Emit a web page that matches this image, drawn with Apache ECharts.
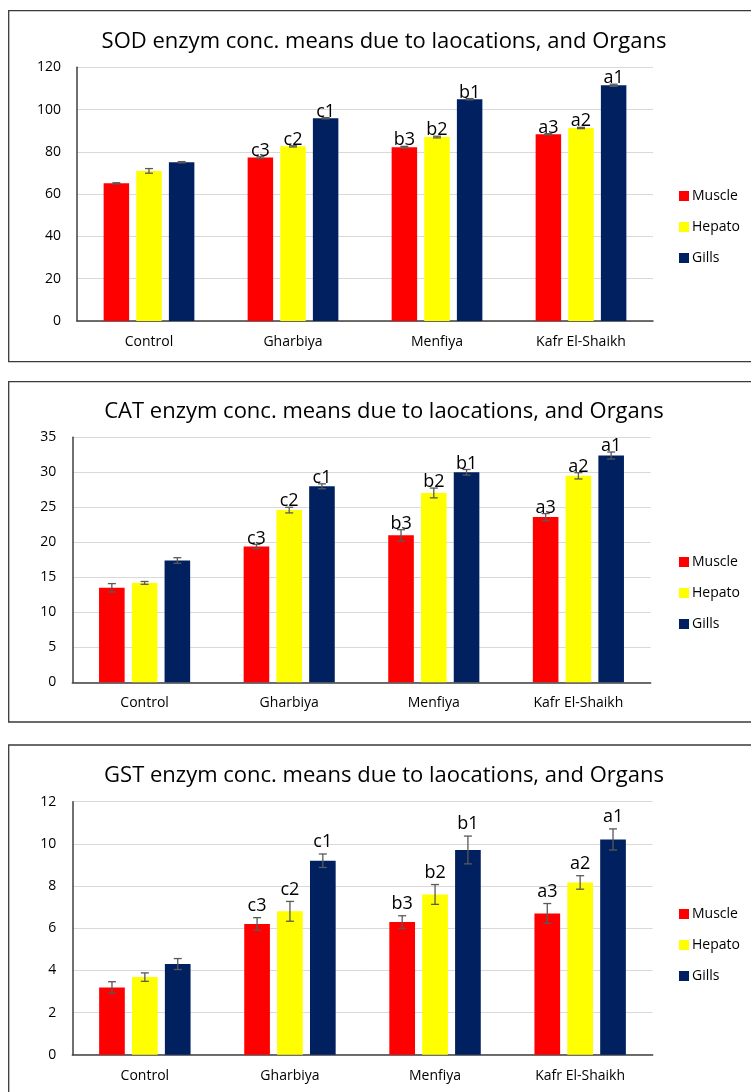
<!DOCTYPE html>
<html>
<head>
<meta charset="utf-8">
<script src="https://cdn.jsdelivr.net/npm/echarts@6/dist/echarts.min.js"></script>
<style>
html,body{margin:0;padding:0;background:#fff;}
#c{width:751px;height:1092px;}
</style>
</head>
<body>
<div id="c"></div>
<script>
// ---------- DATA ----------
const categories = ['Control', 'Gharbiya', 'Menfiya', 'Kafr El-Shaikh'];
const organs = ['Muscle', 'Hepato', 'Gills'];

const muscleLetters = ['', 'c3', 'b3', 'a3'];
const hepatoLetters = ['', 'c2', 'b2', 'a2'];
const gillsLetters  = ['', 'c1', 'b1', 'a1'];

const sodTitle = 'SOD enzym conc. means due to laocations, and Organs';
const sodMuscle = [65.1, 77.3, 82.2, 88.3];
const sodHepato = [71.0, 82.6, 87.0, 91.3];
const sodGills  = [75.1, 95.9, 104.9, 111.5];
const sodMuscleErr = [0.3, 0.4, 0.4, 0.3];
const sodHepatoErr = [1.1, 0.3, 0.4, 0.3];
const sodGillsErr  = [0.3, 0.3, 0.3, 0.5];
const sodTicks = { min: 0, max: 120, interval: 20 };

const catTitle = 'CAT enzym conc. means due to laocations, and Organs';
const catMuscle = [13.5, 19.4, 21.0, 23.6];
const catHepato = [14.2, 24.6, 27.05, 29.5];
const catGills  = [17.4, 28.0, 30.0, 32.4];
const catMuscleErr = [0.6, 0.3, 0.8, 0.5];
const catHepatoErr = [0.2, 0.4, 0.7, 0.45];
const catGillsErr  = [0.4, 0.35, 0.4, 0.5];
const catTicks = { min: 0, max: 35, interval: 5 };

const gstTitle = 'GST enzym conc. means due to laocations, and Organs';
const gstMuscle = [3.19, 6.2, 6.29, 6.7];
const gstHepato = [3.68, 6.8, 7.6, 8.17];
const gstGills  = [4.3, 9.2, 9.71, 10.21];
const gstMuscleErr = [0.27, 0.3, 0.3, 0.47];
const gstHepatoErr = [0.2, 0.47, 0.47, 0.32];
const gstGillsErr  = [0.26, 0.32, 0.66, 0.5];
const gstTicks = { min: 0, max: 12, interval: 2 };

// ---------- STYLE / LAYOUT ----------
const colors = ['#FF0000', '#FFFF00', '#002060'];
const FONT = '"Open Sans", "Noto Sans", sans-serif';
const BAR_RATIO = 0.177;
const GAP_RATIO = 0.28;

const panels = [
  { y: 10.7, h: 351, titleY: 42, grid: { left: 77, top: 67.3, width: 576, height: 253.7 }, legendTop: 189, labelGap: 0 },
  { y: 381.7, h: 340.3, titleY: 412, grid: { left: 72.3, top: 437.3, width: 578.4, height: 245 }, legendTop: 555, labelGap: 0 },
  { y: 745, h: 360, titleY: 776, grid: { left: 72.3, top: 801.7, width: 580.4, height: 253 }, legendTop: 907, labelGap: 6 }
];

const charts = [
  { title: sodTitle, vals: [sodMuscle, sodHepato, sodGills], errs: [sodMuscleErr, sodHepatoErr, sodGillsErr], ticks: sodTicks },
  { title: catTitle, vals: [catMuscle, catHepato, catGills], errs: [catMuscleErr, catHepatoErr, catGillsErr], ticks: catTicks },
  { title: gstTitle, vals: [gstMuscle, gstHepato, gstGills], errs: [gstMuscleErr, gstHepatoErr, gstGillsErr], ticks: gstTicks }
];
const letters = [muscleLetters, hepatoLetters, gillsLetters];

const option = {
  animation: false,
  backgroundColor: '#fff',
  textStyle: { fontFamily: FONT },
  title: [], grid: [], xAxis: [], yAxis: [], legend: [], series: [],
  graphic: []
};

charts.forEach((ch, k) => {
  const p = panels[k];
  option.graphic.push({
    type: 'rect', silent: true, z: -1,
    shape: { x: 8.7, y: p.y, width: 760, height: p.h },
    style: { fill: 'none', stroke: '#3a3a3a', lineWidth: 1.3 }
  });
  option.title.push({
    text: ch.title, left: 384, top: p.titleY - 12, textAlign: 'center', padding: 0,
    textStyle: { fontFamily: FONT, fontSize: 22, fontWeight: 'normal', color: '#000', lineHeight: 24 }
  });
  option.grid.push(Object.assign({ containLabel: false }, p.grid));
  option.xAxis.push({
    type: 'category', gridIndex: k, data: categories,
    axisLine: { lineStyle: { color: '#404040', width: 1.5 } },
    axisTick: { show: false },
    axisLabel: { margin: 14, fontSize: 14, color: '#000', fontFamily: FONT }
  });
  option.yAxis.push({
    type: 'value', gridIndex: k, min: ch.ticks.min, max: ch.ticks.max, interval: ch.ticks.interval,
    axisLine: { show: true, lineStyle: { color: '#404040', width: 1.5 } },
    axisTick: { show: false },
    axisLabel: { margin: 16, fontSize: 14, color: '#000', fontFamily: FONT },
    splitLine: { lineStyle: { color: '#D9D9D9', width: 1 } }
  });
  option.legend.push({
    orient: 'vertical', left: 679, top: p.legendTop, padding: 0,
    itemWidth: 10, itemHeight: 10, itemGap: 17, icon: 'rect', selectedMode: false,
    data: organs,
    textStyle: { fontSize: 14, color: '#000', fontFamily: FONT, padding: [0, 0, 0, -2] }
  });
  organs.forEach((org, i) => {
    option.series.push({
      type: 'bar', name: org, xAxisIndex: k, yAxisIndex: k,
      data: ch.vals[i], itemStyle: { color: colors[i] },
      barWidth: (BAR_RATIO * 100) + '%', barGap: (GAP_RATIO * 100) + '%'
    });
  });
  const errData = [];
  const errLabels = [];
  organs.forEach((org, i) => {
    ch.vals[i].forEach((v, c) => {
      errData.push([c, v, ch.errs[i][c], i]);
      errLabels.push(letters[i][c]);
    });
  });
  const gap = p.labelGap;
  option.series.push({
    type: 'custom', name: 'err' + k, xAxisIndex: k, yAxisIndex: k, z: 5,
    data: errData, encode: { x: 0, y: 1 }, silent: true,
    renderItem: function (params, api) {
      const c = api.value(0), v = api.value(1), e = api.value(2), si = api.value(3);
      const catW = api.size([1, 0])[0];
      const bw = catW * BAR_RATIO, g = bw * GAP_RATIO;
      const x = api.coord([c, 0])[0] + (si - 1) * (bw + g);
      const yT = api.coord([c, v + e])[1];
      const yB = api.coord([c, v - e])[1];
      const st = { stroke: '#595959', lineWidth: 1.3 };
      const children = [
        { type: 'line', shape: { x1: x, y1: yT, x2: x, y2: yB }, style: st },
        { type: 'line', shape: { x1: x - 4, y1: yT, x2: x + 4, y2: yT }, style: st },
        { type: 'line', shape: { x1: x - 4, y1: yB, x2: x + 4, y2: yB }, style: st }
      ];
      const lab = errLabels[params.dataIndex];
      if (lab) {
        children.push({
          type: 'text', x: x, y: yT - gap + 3,
          style: { text: lab, fontSize: 18, fontFamily: FONT, fill: '#000', align: 'center', verticalAlign: 'bottom' }
        });
      }
      return { type: 'group', children: children };
    }
  });
});

const chart = echarts.init(document.getElementById('c'), null, { renderer: 'canvas' });
chart.setOption(option);
</script>
</body>
</html>
